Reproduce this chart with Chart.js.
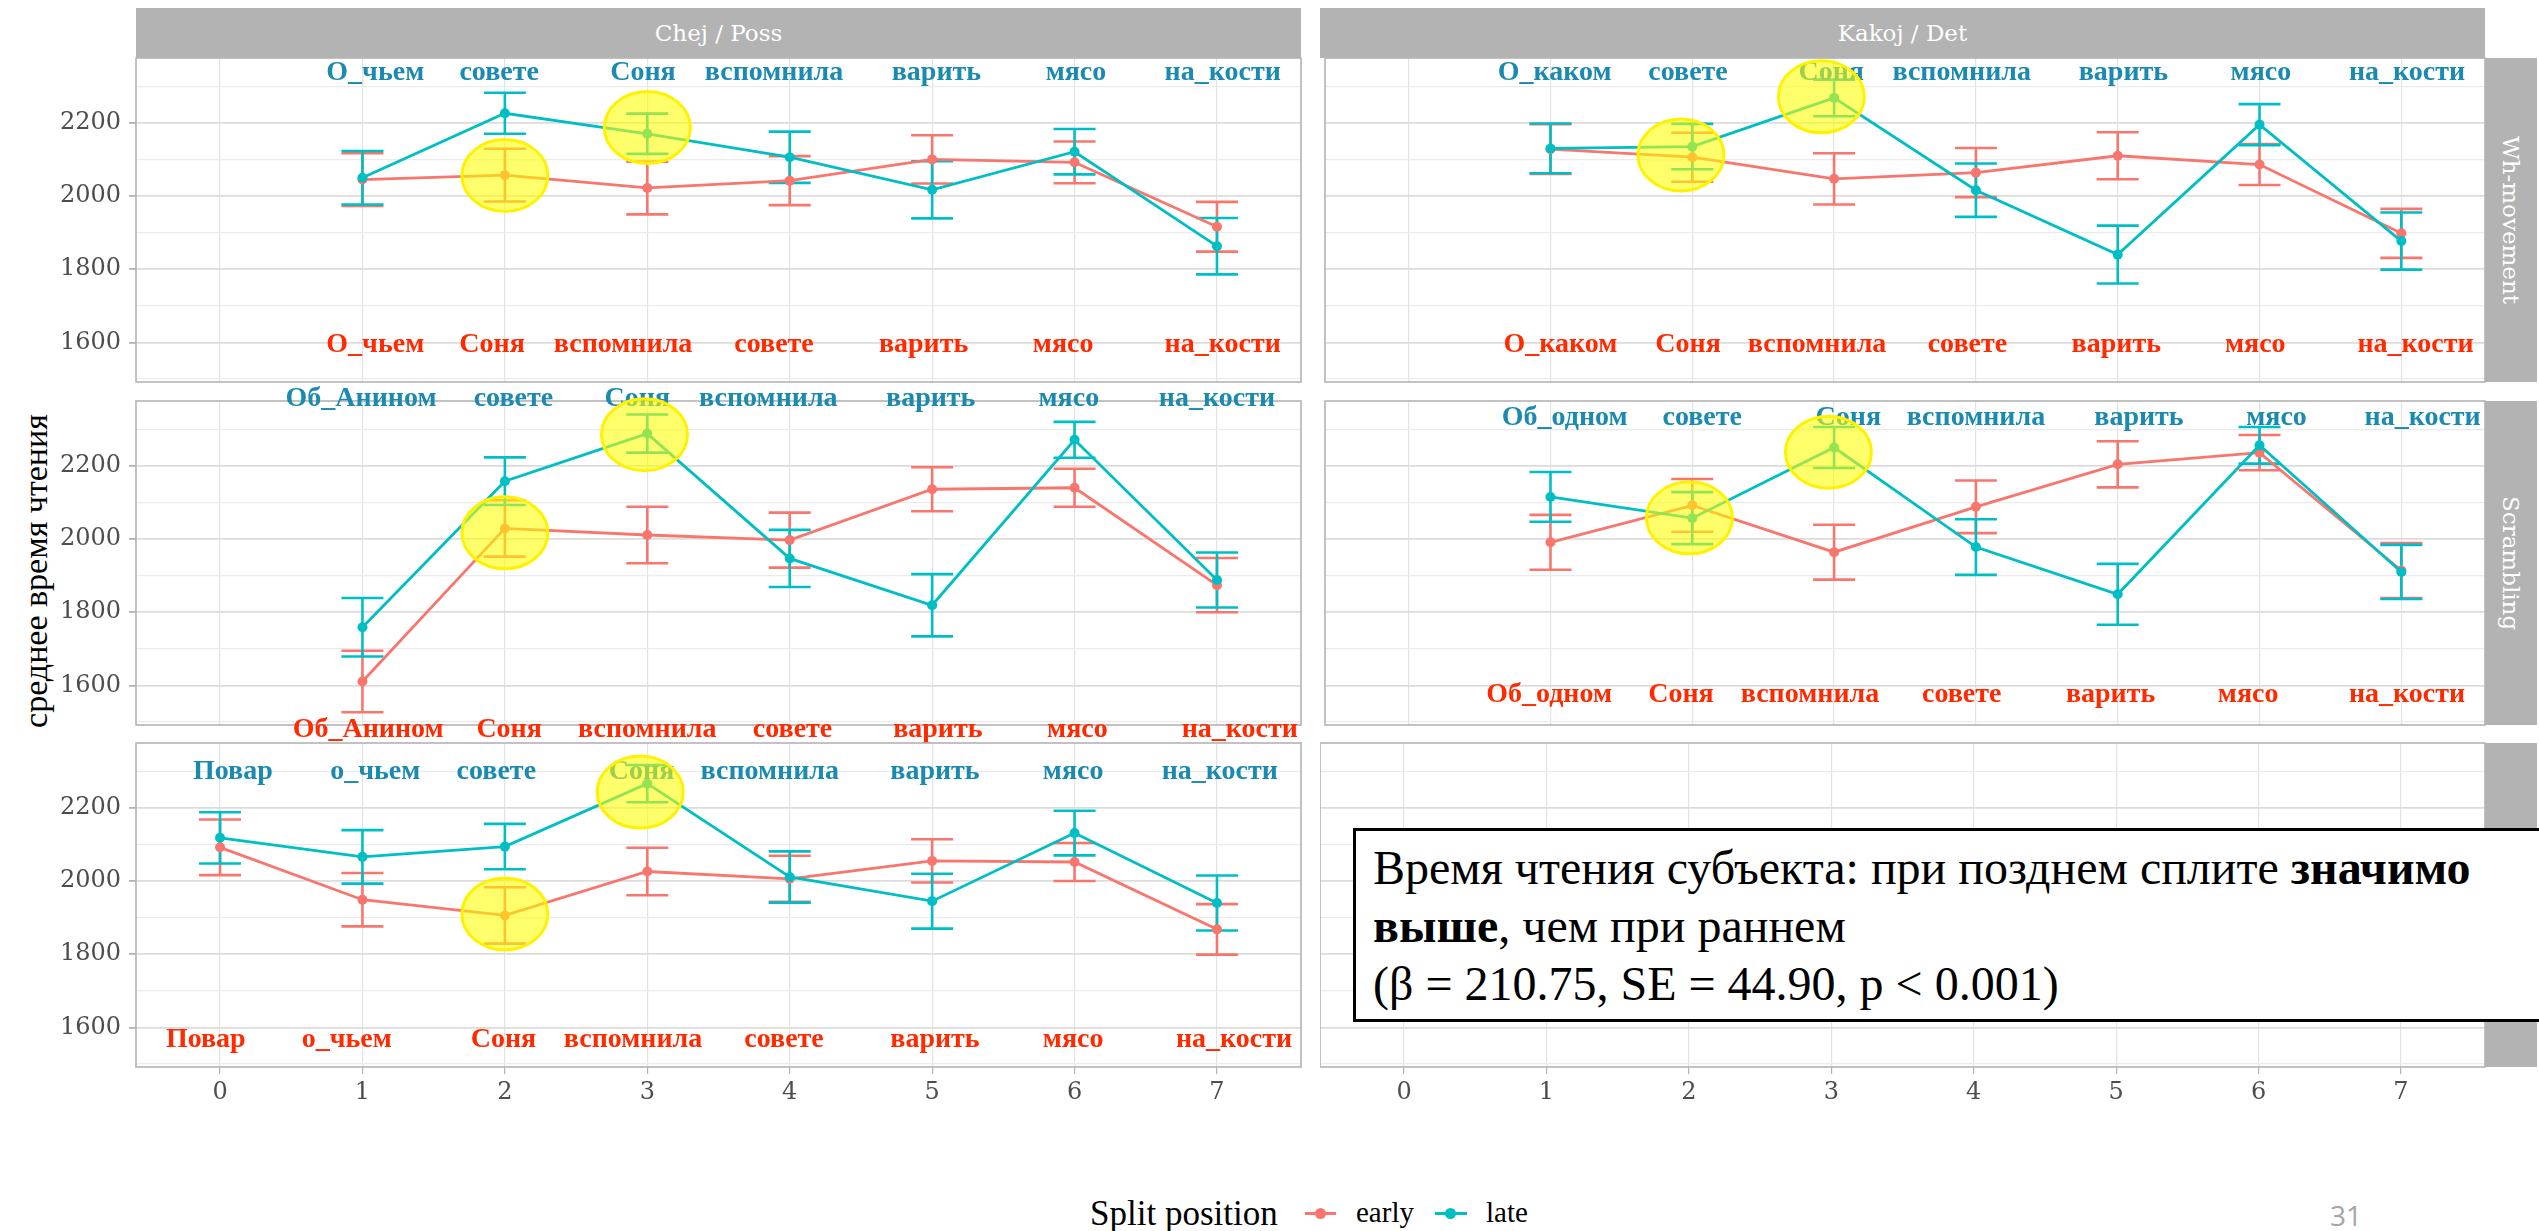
<!DOCTYPE html>
<html>
<head>
<meta charset="utf-8">
<title>среднее время чтения</title>
<script src="https://cdn.jsdelivr.net/npm/chart.js@4.4.1/dist/chart.umd.min.js"></script>
<style>
  body { margin: 0; background: #fff; width: 2539px; height: 1231px; overflow: hidden; position: relative; }
  canvas { position: absolute; z-index: 1; }
  .strip { position: absolute; background: #B3B3B3; color: #fff; font: 23px "DejaVu Serif"; display: flex; align-items: center; justify-content: center; z-index: 3; }
  .vstrip { writing-mode: vertical-rl; }
  .txt { position: absolute; white-space: nowrap; }
</style>
</head>
<body>

<script>
// Позиции слов по оси x
const positions = [0, 1, 2, 3, 4, 5, 6, 7];
const yTicks = [1500, 1600, 1700, 1800, 1900, 2000, 2100, 2200, 2300];

// Chej / Poss , Wh-movement
const chejWhEarly    = [null, 2045, 2057, 2022, 2042, 2100, 2092, 1916];
const chejWhEarlyErr = [null, 72, 72, 72, 67, 66, 57, 68];
const chejWhLate     = [null, 2050, 2226, 2170, 2106, 2017, 2121, 1863];
const chejWhLateErr  = [null, 73, 56, 55, 70, 78, 62, 77];
const chejWhLateWords  = ['О_чьем', 'совете', 'Соня', 'вспомнила', 'варить', 'мясо', 'на_кости'];
const chejWhLateX      = [1.09, 1.96, 2.97, 3.89, 5.03, 6.01, 7.04];
const chejWhEarlyWords = ['О_чьем', 'Соня', 'вспомнила', 'совете', 'варить', 'мясо', 'на_кости'];
const chejWhEarlyX     = [1.09, 1.91, 2.83, 3.89, 4.94, 5.92, 7.04];
const chejWhWordY = [2337, 1595];
const chejWhMarks = [[2.0, 2056], [3.0, 2187]];

// Kakoj / Det , Wh-movement
const kakojWhEarly    = [null, 2128, 2106, 2047, 2064, 2110, 2086, 1898];
const kakojWhEarlyErr = [null, 68, 67, 70, 67, 64, 56, 67];
const kakojWhLate     = [null, 2130, 2135, 2268, 2016, 1840, 2195, 1877];
const kakojWhLateErr  = [null, 68, 62, 50, 73, 79, 56, 78];
const kakojWhLateWords  = ['О_каком', 'совете', 'Соня', 'вспомнила', 'варить', 'мясо', 'на_кости'];
const kakojWhLateX      = [1.03, 1.97, 2.98, 3.90, 5.04, 6.01, 7.04];
const kakojWhEarlyWords = ['О_каком', 'Соня', 'вспомнила', 'совете', 'варить', 'мясо', 'на_кости'];
const kakojWhEarlyX     = [1.07, 1.97, 2.88, 3.94, 4.99, 5.97, 7.10];
const kakojWhWordY = [2337, 1595];
const kakojWhMarks = [[1.92, 2112], [2.91, 2271]];

// Chej / Poss , Scrambling
const chejScrEarly    = [null, 1611, 2029, 2011, 1997, 2136, 2140, 1874];
const chejScrEarlyErr = [null, 84, 77, 77, 75, 60, 52, 74];
const chejScrLate     = [null, 1759, 2158, 2288, 1947, 1819, 2271, 1888];
const chejScrLateErr  = [null, 80, 65, 52, 78, 85, 49, 75];
const chejScrLateWords  = ['Об_Анином', 'совете', 'Соня', 'вспомнила', 'варить', 'мясо', 'на_кости'];
const chejScrLateX      = [0.99, 2.06, 2.93, 3.85, 4.99, 5.96, 7.0];
const chejScrEarlyWords = ['Об_Анином', 'Соня', 'вспомнила', 'совете', 'варить', 'мясо', 'на_кости'];
const chejScrEarlyX     = [1.04, 2.03, 3.0, 4.02, 5.04, 6.02, 7.16];
const chejScrWordY = [2383, 1478];
const chejScrMarks = [[2.0, 2017], [2.98, 2285]];

// Kakoj / Det , Scrambling
const kakojScrEarly    = [null, 1991, 2092, 1964, 2088, 2204, 2236, 1914];
const kakojScrEarlyErr = [null, 75, 72, 75, 72, 63, 48, 75];
const kakojScrLate     = [null, 2115, 2057, 2250, 1978, 1849, 2256, 1910];
const kakojScrLateErr  = [null, 68, 71, 56, 76, 83, 50, 74];
const kakojScrLateWords  = ['Об_одном', 'совете', 'Соня', 'вспомнила', 'варить', 'мясо', 'на_кости'];
const kakojScrLateX      = [1.10, 2.07, 3.10, 4.0, 5.15, 6.12, 7.15];
const kakojScrEarlyWords = ['Об_одном', 'Соня', 'вспомнила', 'совете', 'варить', 'мясо', 'на_кости'];
const kakojScrEarlyX     = [0.99, 1.92, 2.83, 3.90, 4.95, 5.92, 7.04];
const kakojScrWordY = [2331, 1574];
const kakojScrMarks = [[1.98, 2058], [2.96, 2237]];

// Chej / Poss , третий ряд (Повар ...)
const chejSubjEarly    = [2092, 1949, 1906, 2026, 2006, 2055, 2052, 1868];
const chejSubjEarlyErr = [76, 73, 77, 65, 63, 59, 52, 69];
const chejSubjLate     = [2118, 2066, 2094, 2266, 2011, 1945, 2131, 1940];
const chejSubjLateErr  = [70, 73, 62, 51, 70, 75, 61, 75];
const chejSubjLateWords  = ['Повар', 'о_чьем', 'совете', 'Соня', 'вспомнила', 'варить', 'мясо', 'на_кости'];
const chejSubjLateX      = [0.09, 1.09, 1.94, 2.96, 3.86, 5.02, 5.99, 7.02];
const chejSubjEarlyWords = ['Повар', 'о_чьем', 'Соня', 'вспомнила', 'совете', 'варить', 'мясо', 'на_кости'];
const chejSubjEarlyX     = [-0.1, 0.89, 1.99, 2.90, 3.96, 5.02, 5.99, 7.12];
const chejSubjWordY = [2299, 1566];
const chejSubjMarks = [[2.0, 1910], [2.95, 2243]];

// цвета
const EARLY_COL = '#F8766D';
const LATE_COL = '#00BFC4';
const EARLY_WORD = '#FF2A00';
const LATE_WORD = '#1A8AB0';

// геометрия панелей
const colLeft = [136, 1320];
const rowTop = [58, 401, 743];
const PANEL_W = 1165;
const PANEL_H = 324;
const Y_AXIS_W = 136;
const X_AXIS_H = 45;
const PAD = 30;
const PAD_R = 20;

const panels = [
  {col: 0, row: 0, early: chejWhEarly, earlyErr: chejWhEarlyErr, late: chejWhLate, lateErr: chejWhLateErr,
   lateWords: chejWhLateWords, lateX: chejWhLateX, earlyWords: chejWhEarlyWords, earlyX: chejWhEarlyX, wordY: chejWhWordY, marks: chejWhMarks},
  {col: 1, row: 0, early: kakojWhEarly, earlyErr: kakojWhEarlyErr, late: kakojWhLate, lateErr: kakojWhLateErr,
   lateWords: kakojWhLateWords, lateX: kakojWhLateX, earlyWords: kakojWhEarlyWords, earlyX: kakojWhEarlyX, wordY: kakojWhWordY, marks: kakojWhMarks},
  {col: 0, row: 1, early: chejScrEarly, earlyErr: chejScrEarlyErr, late: chejScrLate, lateErr: chejScrLateErr,
   lateWords: chejScrLateWords, lateX: chejScrLateX, earlyWords: chejScrEarlyWords, earlyX: chejScrEarlyX, wordY: chejScrWordY, marks: chejScrMarks},
  {col: 1, row: 1, early: kakojScrEarly, earlyErr: kakojScrEarlyErr, late: kakojScrLate, lateErr: kakojScrLateErr,
   lateWords: kakojScrLateWords, lateX: kakojScrLateX, earlyWords: kakojScrEarlyWords, earlyX: kakojScrEarlyX, wordY: kakojScrWordY, marks: kakojScrMarks},
  {col: 0, row: 2, early: chejSubjEarly, earlyErr: chejSubjEarlyErr, late: chejSubjLate, lateErr: chejSubjLateErr,
   lateWords: chejSubjLateWords, lateX: chejSubjLateX, earlyWords: chejSubjEarlyWords, earlyX: chejSubjEarlyX, wordY: chejSubjWordY, marks: chejSubjMarks},
  {col: 1, row: 2} // пустая панель
];

function toPoints(values) {
  var pts = [];
  values.forEach(function (v, i) { if (v !== null) pts.push({x: positions[i], y: v}); });
  return pts;
}

function series(name, values, color, order) {
  return {
    label: name, data: toPoints(values), order: order,
    borderColor: color, backgroundColor: color, borderWidth: 2.8,
    pointRadius: 5, pointHoverRadius: 5, pointBorderWidth: 0, tension: 0
  };
}

// Усы ошибок
function drawErrors(ctx, xs, ys, means, errs, color) {
  ctx.save();
  ctx.strokeStyle = color;
  ctx.lineWidth = 2.6;
  means.forEach(function (m, i) {
    if (m === null) return;
    var px = xs.getPixelForValue(positions[i]);
    var top = ys.getPixelForValue(m + errs[i]);
    var bot = ys.getPixelForValue(m - errs[i]);
    ctx.beginPath();
    ctx.moveTo(px, top); ctx.lineTo(px, bot);
    ctx.moveTo(px - 21, top); ctx.lineTo(px + 21, top);
    ctx.moveTo(px - 21, bot); ctx.lineTo(px + 21, bot);
    ctx.stroke();
  });
  ctx.restore();
}

function drawWords(ctx, xs, ys, words, xsVals, yVal, color) {
  ctx.save();
  ctx.font = 'bold 28px "Liberation Serif"';
  ctx.fillStyle = color;
  ctx.textAlign = 'center';
  ctx.textBaseline = 'middle';
  words.forEach(function (w, i) {
    ctx.fillText(w, xs.getPixelForValue(xsVals[i]), ys.getPixelForValue(yVal));
  });
  ctx.restore();
}

function decor(p) {
  return {
    id: 'decor',
    beforeDatasetsDraw: function (chart) {
      var xs = chart.scales.x, ys = chart.scales.y;
      if (p.early) drawErrors(chart.ctx, xs, ys, p.early, p.earlyErr, EARLY_COL);
      if (p.late) drawErrors(chart.ctx, xs, ys, p.late, p.lateErr, LATE_COL);
    },
    afterDraw: function (chart) {
      var ctx = chart.ctx, a = chart.chartArea, xs = chart.scales.x, ys = chart.scales.y;
      ctx.save();
      ctx.strokeStyle = '#B3B3B3';
      ctx.lineWidth = 1.6;
      ctx.strokeRect(a.left, a.top, a.right - a.left, a.bottom - a.top);
      ctx.restore();
      if (!p.early) return;
      drawWords(ctx, xs, ys, p.lateWords, p.lateX, p.wordY[0], LATE_WORD);
      drawWords(ctx, xs, ys, p.earlyWords, p.earlyX, p.wordY[1], EARLY_WORD);
      // жёлтые выделения
      ctx.save();
      p.marks.forEach(function (m) {
        ctx.beginPath();
        ctx.ellipse(xs.getPixelForValue(m[0]), ys.getPixelForValue(m[1]), 43, 36, 0, 0, Math.PI * 2);
        ctx.fillStyle = 'rgba(255, 255, 0, 0.58)';
        ctx.fill();
        ctx.strokeStyle = '#FFF200';
        ctx.lineWidth = 3;
        ctx.stroke();
      });
      ctx.restore();
    }
  };
}

function isMajor(v) { return v % 200 === 0; }

function makePanel(p) {
  var axisW = p.col === 0 ? Y_AXIS_W : 0;
  var isBottom = p.row === 2;
  var axisH = isBottom ? X_AXIS_H : 0;
  var padB = isBottom ? 0 : PAD;
  var cv = document.createElement('canvas');
  cv.width = axisW + PANEL_W + PAD_R;
  cv.height = PAD + PANEL_H + axisH + padB;
  cv.style.left = (colLeft[p.col] - axisW) + 'px';
  cv.style.top = (rowTop[p.row] - PAD) + 'px';
  document.body.appendChild(cv);

  var datasets = [];
  if (p.late) datasets.push(series('late', p.late, LATE_COL, 1));
  if (p.early) datasets.push(series('early', p.early, EARLY_COL, 2));

  var tickFont = {family: '"DejaVu Serif"', size: 24};
  new Chart(cv, {
    type: 'line',
    data: {datasets: datasets},
    options: {
      responsive: false, animation: false, devicePixelRatio: 1,
      layout: {padding: {top: PAD, right: PAD_R, bottom: padB, left: 0}},
      plugins: {legend: {display: false}, tooltip: {enabled: false}},
      events: [],
      scales: {
        x: {
          type: 'linear', min: -0.59, max: 7.59,
          afterBuildTicks: function (s) { s.ticks = positions.map(function (v) { return {value: v}; }); },
          afterFit: function (s) { s.height = axisH; },
          ticks: {display: isBottom, font: tickFont, color: '#4D4D4D', padding: 4},
          grid: {color: '#E3E3E3', lineWidth: 1.2, drawTicks: isBottom, tickLength: 7, tickColor: '#B3B3B3'},
          border: {display: false}
        },
        y: {
          type: 'linear', min: 1492, max: 2377,
          afterBuildTicks: function (s) { s.ticks = yTicks.map(function (v) { return {value: v}; }); },
          afterFit: function (s) { s.width = axisW; },
          ticks: {display: p.col === 0, font: tickFont, color: '#4D4D4D', padding: 8,
                  callback: function (v) { return isMajor(v) ? String(v) : ''; }},
          grid: {
            color: function (c) { return c.tick && isMajor(c.tick.value) ? '#DCDCDC' : '#EBEBEB'; },
            lineWidth: function (c) { return c.tick && isMajor(c.tick.value) ? 1.8 : 1.2; },
            drawTicks: p.col === 0, tickLength: 7,
            tickColor: function (c) { return c.tick && isMajor(c.tick.value) ? '#B3B3B3' : 'rgba(0,0,0,0)'; }
          },
          border: {display: false}
        }
      }
    },
    plugins: [decor(p)]
  });
}

function addDiv(cls, css, html) {
  var d = document.createElement('div');
  d.className = cls;
  d.style.cssText = css;
  d.innerHTML = html;
  document.body.appendChild(d);
  return d;
}

// Запуск при загрузке
function onPageStart() {
  panels.forEach(makePanel);

  // полосы фасетов
  addDiv('strip', 'left:136px;top:8px;width:1165px;height:50px;', 'Chej / Poss');
  addDiv('strip', 'left:1320px;top:8px;width:1165px;height:50px;', 'Kakoj / Det');
  addDiv('strip vstrip', 'left:2485px;top:58px;width:52px;height:324px;', 'Wh-movement');
  addDiv('strip vstrip', 'left:2485px;top:401px;width:52px;height:324px;', 'Scrambling');
  addDiv('strip vstrip', 'left:2485px;top:743px;width:52px;height:324px;', '');

  // подпись оси y
  addDiv('txt', 'left:36px;top:571px;transform:translate(-50%,-50%) rotate(180deg);writing-mode:vertical-rl;font:34px "Liberation Serif";color:#000;', 'среднее время чтения');

  // легенда
  addDiv('txt', 'left:1090px;top:1194px;line-height:40px;font:35px "Liberation Serif";color:#000;', 'Split position');
  addDiv('txt', 'left:1305px;top:1212px;width:31px;height:3px;background:' + EARLY_COL + ';', '');
  addDiv('txt', 'left:1315px;top:1208px;width:11px;height:11px;border-radius:50%;background:' + EARLY_COL + ';', '');
  addDiv('txt', 'left:1356px;top:1196px;line-height:36px;font:29px "Liberation Serif";color:#000;', 'early');
  addDiv('txt', 'left:1435px;top:1212px;width:32px;height:3px;background:' + LATE_COL + ';', '');
  addDiv('txt', 'left:1445px;top:1208px;width:11px;height:11px;border-radius:50%;background:' + LATE_COL + ';', '');
  addDiv('txt', 'left:1486px;top:1196px;line-height:36px;font:29px "Liberation Serif";color:#000;', 'late');

  // номер слайда
  addDiv('txt', 'left:2330px;top:1196px;line-height:36px;font:28px "Open Sans";color:#A6A6A6;', '31');

  // рамка с выводом
  addDiv('txt', 'left:1353px;top:828px;width:1250px;height:194px;box-sizing:border-box;border:3px solid #000;background:#fff;z-index:5;' +
    'padding:8px 0 0 17px;font:48px "Liberation Serif";line-height:58px;color:#000;',
    'Время чтения субъекта: при позднем сплите <b>значимо</b><br><b>выше</b>, чем при раннем<br>(β = 210.75, SE = 44.90, p &lt; 0.001)');
}

onPageStart();
</script>
</body>
</html>
